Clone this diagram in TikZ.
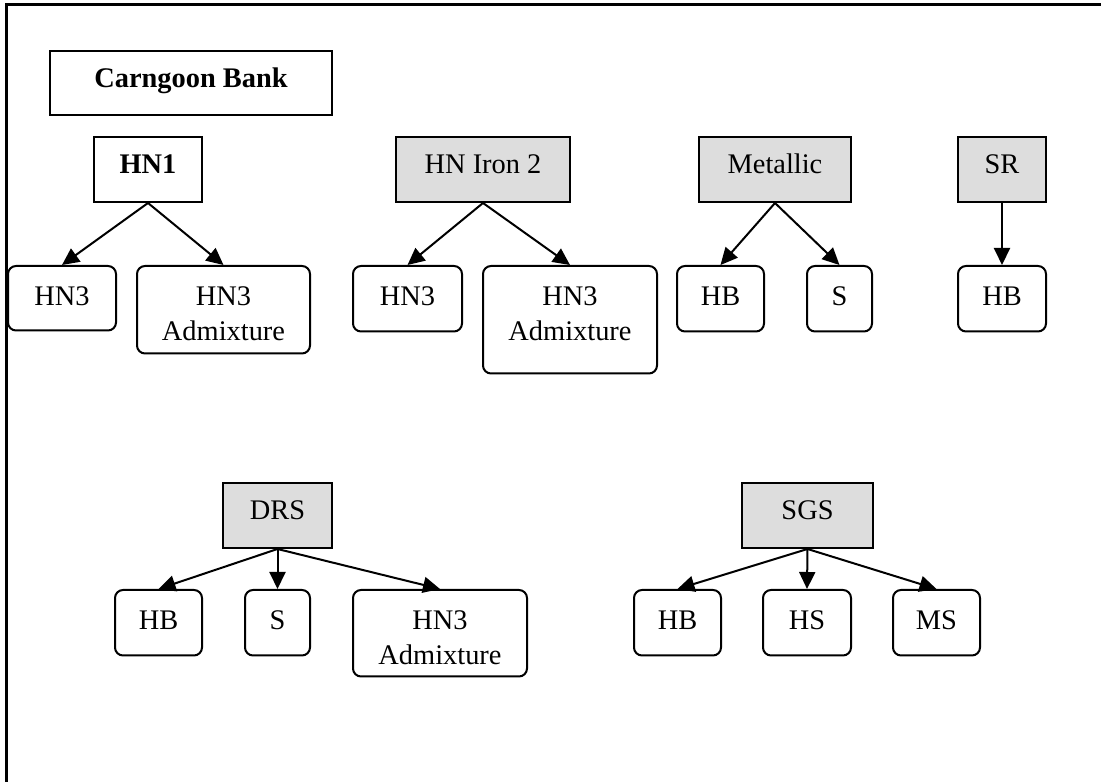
\documentclass[tikz,border=0pt]{standalone}
\usepackage{fontspec}
\setmainfont{Liberation Serif}
\usetikzlibrary{arrows.meta}
\definecolor{boxgrey}{HTML}{DDDDDD}
\tikzset{
  every node/.style={font=\fontsize{28.5}{35.5}\selectfont},
  toplevel/.style={draw,line width=2bp,fill=boxgrey,anchor=north,inner sep=0pt,
    text height=37bp,text depth=28bp},
  sublevel/.style={draw,line width=2bp,rounded corners=8bp,anchor=north,inner sep=0pt,
    text height=39.5bp,text depth=#1},
  sublevel/.default=26bp,
}
\newcommand{\twolines}[2]{\begin{tabular}[t]{@{}c@{}}#1\\#2\end{tabular}}
\begin{document}
\begin{tikzpicture}[>={Triangle[length=17bp,width=16bp]},line width=2bp]
%%
\useasboundingbox (0bp,0bp) rectangle (1101bp,782bp);
\draw [line width=3bp] (6bp,0bp) -- (6bp,777bp) -- (1101bp,777bp);
%%
\node (bank) at (191bp,732bp) [toplevel,fill=white,minimum width=282bp,text depth=27bp] {\textbf{Carngoon Bank}};
%
\node (hn1) at (148bp,646bp) [toplevel,fill=white,minimum width=108bp] {\textbf{HN1}};
  \node (hn1a) at (62bp,517bp) [sublevel=25bp,minimum width=108bp] {HN3};
  \node (hn1b) at (223.5bp,517bp) [sublevel=48bp,minimum width=173bp] {\twolines{HN3}{Admixture}};
  \draw [black,->] (hn1.south) -- (hn1a.north);
  \draw [black,->] (hn1.south) -- (hn1b.north);
%
\node (iron) at (483bp,646bp) [toplevel,minimum width=174bp] {HN Iron 2};
  \node (irona) at (407.5bp,517bp) [sublevel,minimum width=109bp] {HN3};
  \node (ironb) at (570bp,517bp) [sublevel=68bp,minimum width=174bp] {\twolines{HN3}{Admixture}};
  \draw [black,->] (iron.south) -- (irona.north);
  \draw [black,->] (iron.south) -- (ironb.north);
%
\node (metal) at (775bp,646bp) [toplevel,minimum width=152bp] {Metallic};
  \node (metala) at (720.5bp,517bp) [sublevel,minimum width=87bp] {HB};
  \node (metalb) at (839.5bp,517bp) [sublevel,minimum width=65bp] {S};
  \draw [black,->] (metal.south) -- (metala.north);
  \draw [black,->] (metal.south) -- (metalb.north);
%
\node (sr) at (1002bp,646bp) [toplevel,minimum width=88bp] {SR};
  \node (sra) at (1002bp,517bp) [sublevel,minimum width=88bp] {HB};
  \draw [black,->] (sr.south) -- (sra.north);
%
\node (drs) at (277.5bp,300bp) [toplevel,minimum width=109bp] {DRS};
  \node (drsa) at (158.5bp,193bp) [sublevel,minimum width=87bp] {HB};
  \node (drsb) at (277.5bp,193bp) [sublevel,minimum width=65bp] {S};
  \node (drsc) at (440bp,193bp) [sublevel=47bp,minimum width=174bp] {\twolines{HN3}{Admixture}};
  \draw [black,->] (drs.south) -- (drsa.north);
  \draw [black,->] (drs.south) -- (drsb.north);
  \draw [black,->] (drs.south) -- (drsc.north);
%
\node (sgs) at (807.5bp,300bp) [toplevel,minimum width=131bp] {SGS};
  \node (sgsa) at (677.5bp,193bp) [sublevel,minimum width=87bp] {HB};
  \node (sgsb) at (807bp,193bp) [sublevel,minimum width=88bp] {HS};
  \node (sgsc) at (936.5bp,193bp) [sublevel,minimum width=87bp] {MS};
  \draw [black,->] (sgs.south) -- (sgsa.north);
  \draw [black,->] (sgs.south) -- (sgsb.north);
  \draw [black,->] (sgs.south) -- (sgsc.north);
%
\end{tikzpicture}
\end{document}
